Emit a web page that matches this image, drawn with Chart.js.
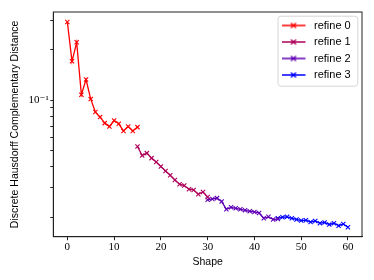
<!DOCTYPE html>
<html lang="en">
<head>
  <meta charset="UTF-8">
  <title>Discrete Hausdorff Complementary Distance</title>
  <script src="https://cdn.jsdelivr.net/npm/chart.js"></script>
  <style>
    body {
      margin: 0;
      background: #fff;
    }
    canvas {
      display: block;
    }
  </style>
</head>
<body>
  <canvas id="chart" width="374" height="280"></canvas>
  <script>
  // данные
  const seriesNames = ["refine 0", "refine 1", "refine 2", "refine 3"];
  const seriesColors = ["rgb(255,0,0)", "rgb(175,0,90)", "rgb(95,0,180)", "rgb(0,0,255)"];

  const shapes0 = [0, 1, 2, 3, 4, 5, 6, 7, 8, 9, 10, 11, 12, 13, 14, 15];
  const dist0 = [0.294, 0.171, 0.222, 0.108, 0.133, 0.1016, 0.085, 0.0793, 0.0730, 0.0697, 0.0757, 0.0723, 0.0656, 0.0697, 0.0656, 0.0691];

  const shapes1 = [15, 16, 17, 18, 19, 20, 21, 22, 23, 24, 25, 26, 27, 28, 29, 30];
  const dist1 = [0.0529, 0.0467, 0.0483, 0.0451, 0.0427, 0.0402, 0.0378, 0.0356, 0.0334, 0.0315, 0.0309, 0.0294, 0.0291, 0.0274, 0.0283, 0.0264];

  const shapes2 = [30, 31, 32, 33, 34, 35, 36, 37, 38, 39, 40, 41, 42, 43, 44, 45];
  const dist2 = [0.0254, 0.0257, 0.0260, 0.0248, 0.0223, 0.0229, 0.0226, 0.0223, 0.0220, 0.0217, 0.0215, 0.0212, 0.0197, 0.0201, 0.0194, 0.0195];

  const shapes3 = [45, 46, 47, 48, 49, 50, 51, 52, 53, 54, 55, 56, 57, 58, 59, 60];
  const dist3 = [0.0197, 0.0200, 0.0201, 0.0197, 0.0194, 0.0191, 0.0192, 0.0187, 0.0190, 0.0184, 0.0186, 0.0181, 0.0184, 0.0178, 0.0182, 0.0174];

  const xTicks = [0, 10, 20, 30, 40, 50, 60];
  const yTicks = [0.02, 0.03, 0.04, 0.05, 0.06, 0.07, 0.08, 0.09, 0.1, 0.2, 0.3];
  const yTickLabels = { 0.1: "10⁻¹" };

  const allShapes = [shapes0, shapes1, shapes2, shapes3];
  const allDist = [dist0, dist1, dist2, dist3];

  Chart.defaults.color = "#000";
  Chart.defaults.font.family = "'Liberation Sans', Arial, sans-serif";

  // картинка для легенды: линия с крестиком
  function legendMark(color) {
    const c = document.createElement("canvas");
    c.width = 27;
    c.height = 10;
    const g = c.getContext("2d");
    g.strokeStyle = color;
    g.lineWidth = 1.3;
    g.beginPath();
    g.moveTo(0, 5);
    g.lineTo(24, 5);
    g.moveTo(9.5, 2.5);
    g.lineTo(14.5, 7.5);
    g.moveTo(14.5, 2.5);
    g.lineTo(9.5, 7.5);
    g.stroke();
    return c;
  }

  const datasets = seriesNames.map((name, i) => ({
    label: name,
    data: allShapes[i].map((x, j) => ({ x: x, y: allDist[i][j] })),
    borderColor: seriesColors[i],
    backgroundColor: seriesColors[i],
    borderWidth: 1.3,
    pointStyle: "crossRot",
    pointRadius: 3,
    pointBorderWidth: 1.1,
    tension: 0
  }));

  const framePlugin = {
    id: "frame",
    afterLayout(chart) {
      const ca = chart.chartArea;
      const lg = chart.legend;
      const w = lg.width, h = lg.height;
      lg.left = ca.right - 86;
      lg.top = ca.top + 2.5;
      lg.right = lg.left + w;
      lg.bottom = lg.top + h;
    },
    afterDraw(chart) {
      const ctx = chart.ctx;
      const ca = chart.chartArea;
      ctx.save();
      // рамка вокруг всего графика
      ctx.strokeStyle = "#222";
      ctx.lineWidth = 1;
      ctx.strokeRect(ca.left, ca.top, ca.right - ca.left, ca.bottom - ca.top);
      // рамка легенды
      const lg = chart.legend;
      const x0 = lg.left + 1.5, y0 = ca.top + 3.7;
      const x1 = ca.right - 4.7, y1 = y0 + 70;
      ctx.strokeStyle = "#d6d6d6";
      ctx.beginPath();
      ctx.roundRect(x0 + 0.5, y0 + 0.5, x1 - x0, y1 - y0, 3);
      ctx.stroke();
      ctx.restore();
    }
  };

  new Chart(document.getElementById("chart"), {
    type: "line",
    data: { datasets: datasets },
    options: {
      responsive: false,
      animation: false,
      layout: { padding: { left: 0, right: 12, top: 12, bottom: 0 } },
      plugins: {
        legend: {
          position: "chartArea",
          align: "start",
          labels: {
            usePointStyle: true,
            pointStyleWidth: 27,
            padding: 5.5,
            font: { size: 11 },
            generateLabels(chart) {
              return chart.data.datasets.map((ds, i) => ({
                text: ds.label,
                fillStyle: ds.borderColor,
                strokeStyle: ds.borderColor,
                pointStyle: legendMark(ds.borderColor),
                datasetIndex: i,
                lineWidth: 0
              }));
            }
          }
        },
        tooltip: { enabled: false }
      },
      scales: {
        x: {
          type: "linear",
          min: -3,
          max: 63,
          afterBuildTicks(scale) {
            scale.ticks = xTicks.map(v => ({ value: v }));
          },
          afterFit(scale) {
            scale.height = 43.3;
          },
          grid: { drawOnChartArea: false, tickLength: 3.5, tickColor: "#222" },
          border: { color: "#222", width: 1 },
          ticks: {
            autoSkip: false,
            maxRotation: 0,
            padding: 0.5,
            font: { family: "'Liberation Serif', 'DejaVu Serif', serif", size: 11 }
          },
          title: {
            display: true,
            text: "Shape",
            font: { size: 10.5 },
            padding: { top: 0, bottom: 11.4 }
          }
        },
        y: {
          type: "logarithmic",
          min: 0.01529,
          max: 0.337,
          afterBuildTicks(scale) {
            scale.ticks = yTicks.map(v => ({ value: v }));
          },
          afterFit(scale) {
            scale.width = 53.3;
          },
          grid: { drawOnChartArea: false, tickLength: 3, tickColor: "#222" },
          border: { color: "#222", width: 1 },
          ticks: {
            autoSkip: false,
            padding: 1.6,
            font: { family: "'Liberation Serif', 'DejaVu Serif', serif", size: 11 },
            callback(value) {
              return yTickLabels[value] || "";
            }
          },
          title: {
            display: true,
            text: "Discrete Hausdorff Complementary Distance",
            font: { size: 10.5 },
            padding: { top: 8.7, bottom: 0 }
          }
        }
      }
    },
    plugins: [framePlugin]
  });
  </script>
</body>
</html>
